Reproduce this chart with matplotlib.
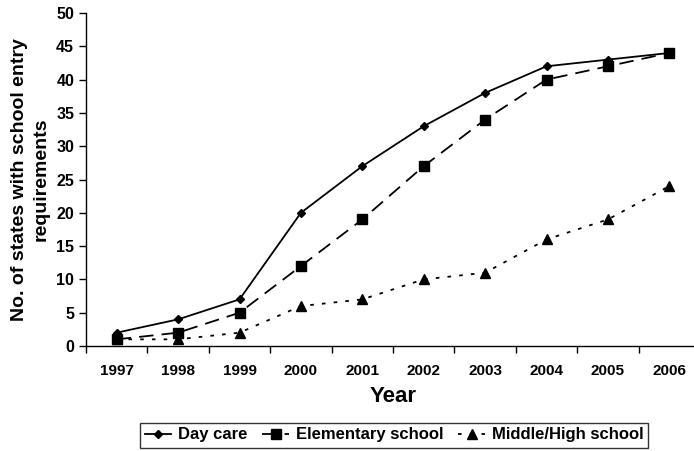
import matplotlib
matplotlib.use("Agg")
import matplotlib.pyplot as plt
import numpy as np

years = ["1997", "1998", "1999", "2000", "2001", "2002", "2003", "2004", "2005", "2006"]
day_care = [2, 4, 7, 20, 27, 33, 38, 42, 43, 44]
elementary = [1, 2, 5, 12, 19, 27, 34, 40, 42, 44]
middle_high = [1, 1, 2, 6, 7, 10, 11, 16, 19, 24]

plt.rcParams['font.family'] = ['Liberation Sans', 'DejaVu Sans']

fig = plt.figure(figsize=(6.94, 4.51), dpi=100)
ax = fig.add_axes([86 / 694, 105 / 451, 614 / 694, 333 / 451])

x = np.arange(len(years))
h1, = ax.plot(x, day_care, color='black', lw=1.3, ls='-', marker='D', ms=4.5,
              label='Day care')
h2, = ax.plot(x, elementary, color='black', lw=1.3, ls=(0, (8, 4.5)), marker='s', ms=6.5,
              label='Elementary school')
h3, = ax.plot(x, middle_high, color='black', lw=1.3, ls=(0, (2, 4.5)), marker='^', ms=6.5,
              label='Middle/High school')

ax.set_xlim(-0.5, len(years) - 0.5)
ax.set_ylim(0, 50)
ax.set_yticks(range(0, 51, 5))
ax.set_xticks(x)
ax.set_xticklabels(years, fontsize=11, fontweight='bold')
ax.set_xticks(np.arange(-0.5, len(years), 1), minor=True)
ax.tick_params(axis='x', which='major', length=0, pad=13)
ax.tick_params(axis='x', which='minor', length=5, direction='out', width=1)
ax.tick_params(axis='y', length=5, direction='out', width=1, labelsize=11.5)
for lbl in ax.get_yticklabels():
    lbl.set_fontweight('bold')

for side in ['top', 'right']:
    ax.spines[side].set_visible(False)
for side in ['left', 'bottom']:
    ax.spines[side].set_linewidth(1)

ax.set_xlabel('Year', fontsize=16, fontweight='bold', labelpad=6)
ax.set_ylabel('No. of states with school entry\nrequirements', fontsize=14,
              fontweight='bold', labelpad=5, linespacing=1.3)

leg = fig.legend(handles=[h1, h2, h3], loc='center', bbox_to_anchor=(394 / 694, 1 - 435 / 451),
                 ncol=3, frameon=True, fancybox=False, edgecolor='black', handlelength=1.6,
                 columnspacing=0.9, handletextpad=0.4, borderpad=0.3,
                 prop={'weight': 'bold', 'size': 12})
leg.get_frame().set_linewidth(1)

fig.savefig('out.png', dpi=100)
